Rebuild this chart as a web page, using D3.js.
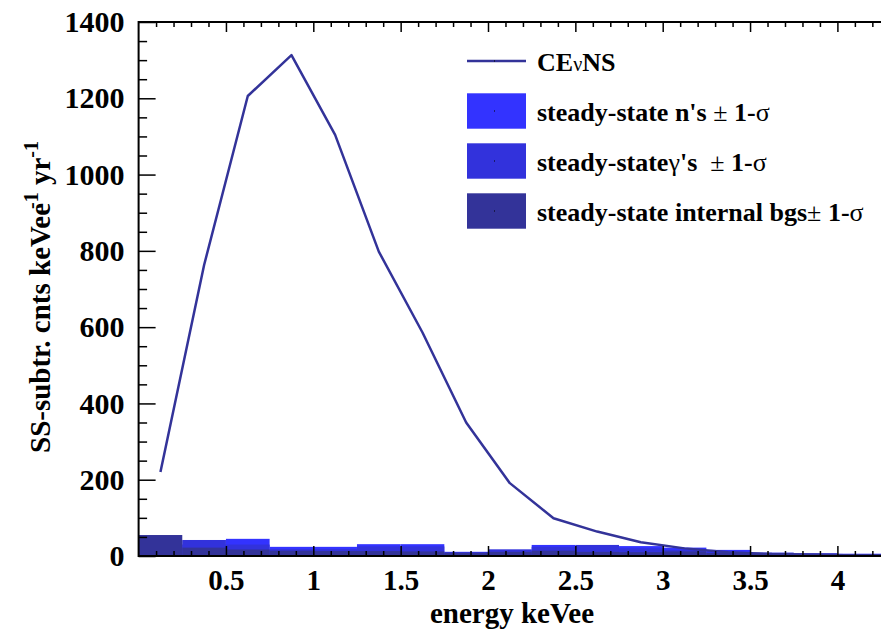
<!DOCTYPE html>
<html>
<head>
<meta charset="utf-8">
<script src="https://cdn.jsdelivr.net/npm/d3@7"></script>
<style>
  body { margin: 0; background: #fff; }
  svg text { font-family: "Liberation Serif", "Times New Roman", serif; font-weight: bold; fill: #000; }
</style>
</head>
<body>
<div id="chart"></div>
<script>
// CEvNS spectrum, bin centres (keVee) and counts
const cevnsEnergy = [0.125, 0.375, 0.625, 0.875, 1.125, 1.375, 1.625, 1.875, 2.125, 2.375, 2.625, 2.875, 3.125, 3.375, 3.625, 3.875, 4.125];
const cevnsCounts = [220, 763, 1206, 1313, 1104, 798, 586, 350, 191, 99, 64, 36, 20, 10, 5, 3, 1];

// steady-state background bands (+1 sigma), lower bin edges
const binLow = [0, 0.25, 0.5, 0.75, 1.0, 1.25, 1.5, 1.75, 2.0, 2.25, 2.5, 2.75, 3.0, 3.25, 3.5, 3.75, 4.0];
const binWidth = 0.25;
const neutronSigma  = [30, 30, 45, 24, 24, 31, 31, 11, 15, 29, 25, 26, 22, 16, 7, 7, 6];
const gammaSigma    = [40, 42, 30, 18, 18, 25, 25, 8, 17.5, 24, 29, 20, 16, 10, 9, 6, 5];
const internalSigma = [55, 22, 17, 14, 13, 13, 12, 9, 11, 14, 11, 10, 12, 8, 7, 6, 5];

const xMajorTicks = [0.5, 1, 1.5, 2, 2.5, 3, 3.5, 4];
const yMajorTicks = [0, 200, 400, 600, 800, 1000, 1200, 1400];

const legendItems = [
  { label: 'CEνNS', type: 'line', color: '#333399' },
  { label: "steady-state n's ± 1-σ", type: 'box', color: '#3333ff' },
  { label: "steady-stateγ's  ± 1-σ", type: 'box', color: '#3232dc' },
  { label: 'steady-state internal bgs± 1-σ', type: 'box', color: '#333399' }
];

const width = 881, height = 629;
const x0 = 138.6, pxPerKeV = 174.7;
const xMax = 4.3;
const plotTop = 22, plotBottom = 556;
const xEnd = x0 + pxPerKeV * xMax;

const svg = d3.select('#chart').append('svg')
  .attr('width', width)
  .attr('height', height);

const x = d3.scaleLinear().domain([0, xMax]).range([x0, xEnd]);
const y = d3.scaleLinear().domain([0, 1400]).range([plotBottom, plotTop]);

// background bands, drawn n's, then gammas, then internal on top
const bands = [
  { values: neutronSigma, color: '#3333ff' },
  { values: gammaSigma, color: '#3232dc' },
  { values: internalSigma, color: '#333399' }
];
bands.forEach(function(b) {
  svg.append('g').selectAll('rect')
    .data(binLow)
    .enter().append('rect')
    .attr('x', function(d) { return x(d); })
    .attr('width', function(d) { return x(d + binWidth) - x(d); })
    .attr('y', function(d, i) { return y(b.values[i]); })
    .attr('height', function(d, i) { return y(0) - y(b.values[i]); })
    .attr('fill', b.color);
});

// CEvNS line
const line = d3.line()
  .x(function(d, i) { return x(cevnsEnergy[i]); })
  .y(function(d) { return y(d); });

svg.append('path')
  .datum(cevnsCounts)
  .attr('fill', 'none')
  .attr('stroke', '#333399')
  .attr('stroke-width', 2.5)
  .attr('stroke-linejoin', 'round')
  .attr('d', line);

// axes
const xMinor = d3.range(0.1, xMax, 0.1).filter(function(v) { return Math.abs(v * 2 - Math.round(v * 2)) > 1e-6; });
const yMinor = d3.range(50, 1400, 50).filter(function(v) { return v % 200 !== 0; });

function tickGroup(axis, transform) {
  const g = svg.append('g').attr('transform', transform).call(axis);
  g.select('.domain').remove();
  g.selectAll('line').attr('stroke', '#000').attr('stroke-width', 1.5);
  g.selectAll('text').remove();
  return g;
}

// bottom ticks point up, top ticks point down
tickGroup(d3.axisTop(x).tickValues(xMajorTicks).tickSize(10), 'translate(0,' + plotBottom + ')');
tickGroup(d3.axisTop(x).tickValues(xMinor).tickSize(5), 'translate(0,' + plotBottom + ')');
tickGroup(d3.axisBottom(x).tickValues(xMajorTicks).tickSize(10), 'translate(0,' + plotTop + ')');
tickGroup(d3.axisBottom(x).tickValues(xMinor).tickSize(5), 'translate(0,' + plotTop + ')');
tickGroup(d3.axisRight(y).tickValues(yMajorTicks).tickSize(17), 'translate(' + x0 + ',0)');
tickGroup(d3.axisRight(y).tickValues(yMinor).tickSize(8.5), 'translate(' + x0 + ',0)');

// frame
svg.append('path')
  .attr('d', 'M' + xEnd + ',' + plotTop + 'H' + x0 + 'V' + plotBottom + 'H' + xEnd)
  .attr('fill', 'none')
  .attr('stroke', '#000')
  .attr('stroke-width', 2);

// tick labels
const xLabels = svg.append('g')
  .attr('transform', 'translate(0,' + plotBottom + ')')
  .call(d3.axisBottom(x).tickValues(xMajorTicks).tickSize(0).tickPadding(13).tickFormat(d3.format('')));
xLabels.select('.domain').remove();
xLabels.selectAll('text').attr('font-size', 29).attr('font-family', null);

const yLabels = svg.append('g')
  .attr('transform', 'translate(' + x0 + ',0)')
  .call(d3.axisLeft(y).tickValues(yMajorTicks).tickSize(0).tickPadding(14).tickFormat(d3.format('d')));
yLabels.select('.domain').remove();
yLabels.selectAll('text').attr('font-size', 30).attr('font-family', null);

// axis titles
svg.append('text')
  .attr('x', 512)
  .attr('y', 623)
  .attr('text-anchor', 'middle')
  .attr('font-size', 29)
  .text('energy keVee');

const yTitle = svg.append('text')
  .attr('transform', 'translate(50,297) rotate(-90)')
  .attr('text-anchor', 'middle')
  .attr('font-size', 29);
yTitle.append('tspan').text('SS-subtr. cnts keVee');
yTitle.append('tspan').attr('font-size', 20).attr('dy', -12).attr('dx', -6).text('-1');
yTitle.append('tspan').attr('dy', 12).text(' yr');
yTitle.append('tspan').attr('font-size', 20).attr('dy', -12).text('-1');

// legend
const legend = svg.append('g');
const rowY = [61, 111, 161, 211];
legendItems.forEach(function(item, i) {
  const cy = rowY[i];
  if (item.type === 'line') {
    legend.append('line')
      .attr('x1', 467).attr('x2', 526)
      .attr('y1', cy).attr('y2', cy)
      .attr('stroke', item.color)
      .attr('stroke-width', 2.5);
  } else {
    legend.append('rect')
      .attr('x', 467).attr('y', cy - 17.7)
      .attr('width', 59).attr('height', 35.4)
      .attr('fill', item.color);
  }
  legend.append('rect')
    .attr('x', 494).attr('y', cy - 0.5)
    .attr('width', 1).attr('height', 1)
    .attr('fill', '#000');

  const t = legend.append('text')
    .attr('x', 537)
    .attr('y', cy + 10)
    .attr('font-size', 26)
    .attr('xml:space', 'preserve');
  item.label.split(/([±σνγ])/).forEach(function(part) {
    if (!part) return;
    const s = t.append('tspan').text(part);
    if (/[±σνγ]/.test(part)) {
      s.attr('font-weight', 'normal');
      if (part === 'ν') s.attr('font-size', 20);
    }
  });
});
</script>
</body>
</html>
